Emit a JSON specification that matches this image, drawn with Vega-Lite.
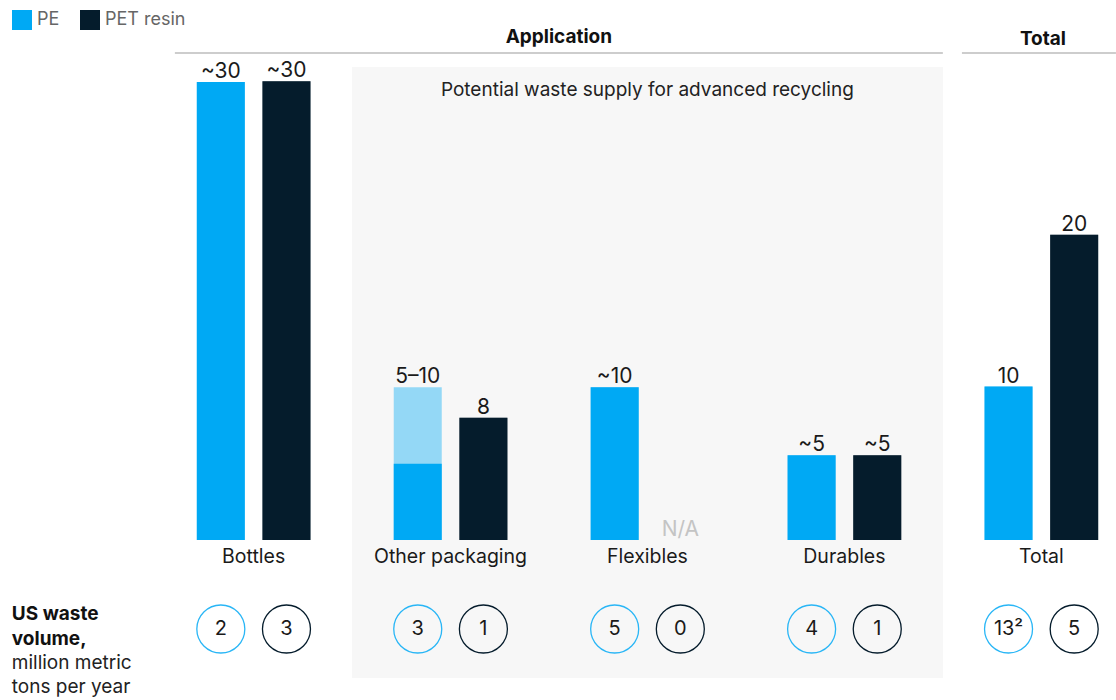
{
  "$schema": "https://vega.github.io/schema/vega-lite/v6.json",
  "width": 919,
  "height": 611,
  "autosize": {"type": "none"},
  "padding": {"left": 188, "top": 67, "right": 9, "bottom": 22},
  "background": "white",
  "config": {"view": {"stroke": null}, "font": "Inter"},
  "data": {
    "values": [
      {"kind": "bar", "slot": "Bottles|PE", "group": "Bottles", "resin": "PE", "low": 30, "high": 30, "label": "~30", "volume": "2"},
      {"kind": "bar", "slot": "Bottles|PET resin", "group": "Bottles", "resin": "PET resin", "low": 30.05, "high": 30.05, "label": "~30", "volume": "3"},
      {"kind": "bar", "slot": "Other packaging|PE", "group": "Other packaging", "resin": "PE", "low": 5, "high": 10, "label": "5–10", "volume": "3"},
      {"kind": "bar", "slot": "Other packaging|PET resin", "group": "Other packaging", "resin": "PET resin", "low": 8, "high": 8, "label": "8", "volume": "1"},
      {"kind": "bar", "slot": "Flexibles|PE", "group": "Flexibles", "resin": "PE", "low": 10, "high": 10, "label": "~10", "volume": "5"},
      {"kind": "bar", "slot": "Flexibles|PET resin", "group": "Flexibles", "resin": "PET resin", "low": 0, "high": 0, "label": "N/A", "volume": "0"},
      {"kind": "bar", "slot": "Durables|PE", "group": "Durables", "resin": "PE", "low": 5.55, "high": 5.55, "label": "~5", "volume": "4"},
      {"kind": "bar", "slot": "Durables|PET resin", "group": "Durables", "resin": "PET resin", "low": 5.55, "high": 5.55, "label": "~5", "volume": "1"},
      {"kind": "bar", "slot": "Total|PE", "group": "Total", "resin": "PE", "low": 10.05, "high": 10.05, "label": "10", "volume": "13²"},
      {"kind": "bar", "slot": "Total|PET resin", "group": "Total", "resin": "PET resin", "low": 20, "high": 20, "label": "20", "volume": "5"},
      {"kind": "region", "slot": "Flexibles|PE", "note": "Potential waste supply for advanced recycling"},
      {"kind": "header", "slot": "Flexibles|PE", "note": "Application"},
      {"kind": "header_total", "slot": "Total|PE", "note": "Total"},
      {"kind": "side_bold", "slot": "Bottles|PE", "lines": ["US waste", "volume,"]},
      {"kind": "side", "slot": "Bottles|PE", "lines": ["million metric", "tons per year"]}
    ]
  },
  "layer": [
    {
      "transform": [{"filter": "datum.kind === 'region'"}],
      "mark": {"type": "tick", "color": "#F7F7F7", "opacity": 1, "orient": "horizontal", "size": 591, "thickness": 611, "xOffset": 32.8},
      "encoding": {
        "x": {
          "field": "slot", "type": "nominal",
          "scale": {"domain": ["Bottles|PE", "Bottles|PET resin", "gap1", "Other packaging|PE", "Other packaging|PET resin", "gap2", "Flexibles|PE", "Flexibles|PET resin", "gap3", "Durables|PE", "Durables|PET resin", "gap4", "Total|PE", "Total|PET resin"], "paddingInner": 0.2686, "paddingOuter": 0.1343},
          "axis": {"orient": "bottom", "offset": -138, "zindex": 1, "domain": false, "ticks": false, "title": null, "labelFontSize": 19.5, "labelColor": "#1a1a1a", "labelPadding": 7, "labelAngle": 0, "labelOffset": 32.8, "labelOverlap": false, "labelBound": false, "labelExpr": "slice(datum.value, -3) === '|PE' ? split(datum.value, '|')[0] : ''"}
        },
        "y": {"datum": 10.97, "type": "quantitative", "scale": {"domain": [-9.04, 30.98], "nice": false, "zero": false}, "axis": null}
      }
    },
    {
      "transform": [{"filter": "datum.kind === 'header'"}],
      "mark": {"type": "tick", "color": "#BDBDBD", "opacity": 1, "orient": "horizontal", "size": 768, "thickness": 1.5, "xOffset": -55.8},
      "encoding": {
        "x": {"field": "slot", "type": "nominal"},
        "y": {"datum": 31.9, "type": "quantitative"}
      }
    },
    {
      "transform": [{"filter": "datum.kind === 'header_total'"}],
      "mark": {"type": "tick", "color": "#BDBDBD", "opacity": 1, "orient": "horizontal", "size": 154, "thickness": 1.5, "xOffset": 30.4},
      "encoding": {
        "x": {"field": "slot", "type": "nominal"},
        "y": {"datum": 31.9, "type": "quantitative"}
      }
    },
    {
      "transform": [{"filter": "datum.kind === 'header'"}],
      "mark": {"type": "text", "fontSize": 19, "fontWeight": "bold", "color": "#111", "baseline": "middle", "dx": -55.8},
      "encoding": {
        "x": {"field": "slot", "type": "nominal"},
        "y": {"datum": 32.95, "type": "quantitative"},
        "text": {"field": "note"}
      }
    },
    {
      "transform": [{"filter": "datum.kind === 'header_total'"}],
      "mark": {"type": "text", "fontSize": 19, "fontWeight": "bold", "color": "#111", "baseline": "middle", "dx": 34.4},
      "encoding": {
        "x": {"field": "slot", "type": "nominal"},
        "y": {"datum": 32.81, "type": "quantitative"},
        "text": {"field": "note"}
      }
    },
    {
      "transform": [{"filter": "datum.kind === 'region'"}],
      "mark": {"type": "text", "fontSize": 19, "color": "#222", "baseline": "middle", "dx": 32.7},
      "encoding": {
        "x": {"field": "slot", "type": "nominal"},
        "y": {"datum": 29.47, "type": "quantitative"},
        "text": {"field": "note"}
      }
    },
    {
      "transform": [{"filter": "datum.kind === 'bar'"}],
      "mark": {"type": "bar", "opacity": 0.4},
      "encoding": {
        "x": {"field": "slot", "type": "nominal"},
        "y": {"field": "high", "type": "quantitative"},
        "color": {"field": "resin", "type": "nominal", "scale": {"domain": ["PE", "PET resin"], "range": ["#00A9F4", "#051C2C"]}, "legend": {"orient": "none", "legendX": -176, "legendY": -57, "direction": "horizontal", "title": null, "symbolType": "square", "symbolSize": 400, "symbolStrokeWidth": 0, "symbolOpacity": 1, "labelFontSize": 18, "labelColor": "#666", "labelOffset": 5, "columnPadding": 20}}
      }
    },
    {
      "transform": [{"filter": "datum.kind === 'bar'"}],
      "mark": {"type": "bar"},
      "encoding": {
        "x": {"field": "slot", "type": "nominal"},
        "y": {"field": "low", "type": "quantitative"},
        "color": {"field": "resin", "type": "nominal"}
      }
    },
    {
      "transform": [{"filter": "datum.kind === 'bar'"}],
      "mark": {"type": "text", "baseline": "alphabetic", "dy": -4, "fontSize": 21},
      "encoding": {
        "x": {"field": "slot", "type": "nominal"},
        "y": {"field": "high", "type": "quantitative"},
        "text": {"field": "label"},
        "color": {"condition": {"test": "datum.label === 'N/A'", "value": "#C4C4C4"}, "value": "#1a1a1a"}
      }
    },
    {
      "transform": [{"filter": "datum.kind === 'bar'"}],
      "mark": {"type": "point", "filled": false, "size": 2304, "strokeWidth": 1.3, "shape": "circle", "opacity": 1},
      "encoding": {
        "x": {"field": "slot", "type": "nominal"},
        "y": {"datum": -5.83, "type": "quantitative"},
        "stroke": {"field": "resin", "type": "nominal", "scale": {"domain": ["PE", "PET resin"], "range": ["#29B6F6", "#051C2C"]}, "legend": null}
      }
    },
    {
      "transform": [{"filter": "datum.kind === 'bar'"}],
      "mark": {"type": "text", "baseline": "middle", "fontSize": 20, "color": "#1a1a1a"},
      "encoding": {
        "x": {"field": "slot", "type": "nominal"},
        "y": {"datum": -5.83, "type": "quantitative"},
        "text": {"field": "volume"}
      }
    },
    {
      "transform": [{"filter": "datum.kind === 'side_bold'"}],
      "mark": {"type": "text", "align": "left", "baseline": "alphabetic", "fontSize": 19, "fontWeight": "bold", "color": "#111", "lineHeight": 24.5, "dx": -209},
      "encoding": {
        "x": {"field": "slot", "type": "nominal"},
        "y": {"datum": -5.27, "type": "quantitative"},
        "text": {"field": "lines"}
      }
    },
    {
      "transform": [{"filter": "datum.kind === 'side'"}],
      "mark": {"type": "text", "align": "left", "baseline": "alphabetic", "fontSize": 19, "color": "#222", "lineHeight": 24.5, "dx": -209},
      "encoding": {
        "x": {"field": "slot", "type": "nominal"},
        "y": {"datum": -8.45, "type": "quantitative"},
        "text": {"field": "lines"}
      }
    }
  ]
}
